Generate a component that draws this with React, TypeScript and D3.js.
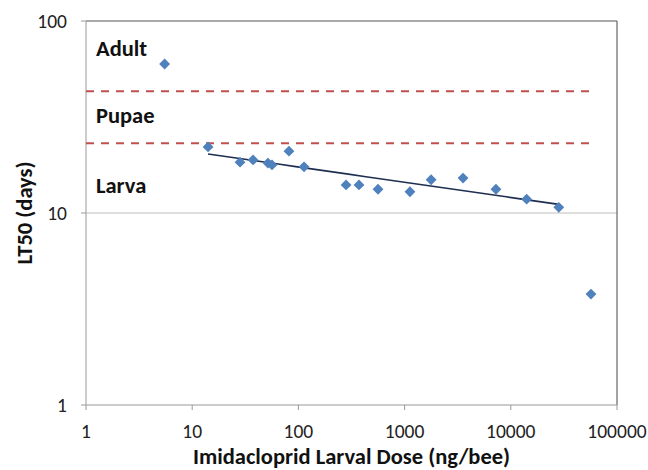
import React from "react";
import * as d3 from "d3";

const doses = [5.5, 14.1, 28.2, 37.4, 51.7, 56.4, 81.5, 113, 281, 372, 562, 1123, 1777, 3550, 7245, 14100, 28300, 56900];
const lt50 = [59.7, 22.1, 18.4, 18.9, 18.2, 17.8, 21.0, 17.4, 14.0, 14.0, 13.3, 12.9, 14.9, 15.2, 13.3, 11.8, 10.7, 3.78];
// indices of larval points used for the power trendline
const trendIdx = [1, 2, 3, 4, 5, 6, 7, 8, 9, 10, 11, 12, 13, 14, 15, 16];
const stageBoundaries = [43.1, 23.1];
const stageLineX = [1, 59000];
const stageLabels = ["Adult", "Pupae", "Larva"];
const stageLabelY = [65.8, 29.4, 12.7];
const xTicks = [1, 10, 100, 1000, 10000, 100000];
const yTicks = [1, 10, 100];
const xTitle = "Imidacloprid Larval Dose (ng/bee)";
const yTitle = "LT50 (days)";

const W = 648, H = 470;
const L = 86, R = 617, T = 21, B = 405;
const FONT = "Carlito, Calibri, 'Open Sans', sans-serif";

export default function App() {
  const x = d3.scaleLog().domain([1, 100000]).range([L, R]);
  const y = d3.scaleLog().domain([1, 100]).range([B, T]);

  const lx = trendIdx.map(i => Math.log10(doses[i]));
  const ly = trendIdx.map(i => Math.log10(lt50[i]));
  const mx = d3.mean(lx)!, my = d3.mean(ly)!;
  const slope = d3.sum(lx.map((v, k) => (v - mx) * (ly[k] - my))) / d3.sum(lx.map(v => (v - mx) ** 2));
  const icpt = my - slope * mx;
  const tx = d3.extent(trendIdx.map(i => doses[i])) as [number, number];
  const trendPts: [number, number][] = d3.range(0, 21).map(k => {
    const lv = Math.log10(tx[0]) + (Math.log10(tx[1]) - Math.log10(tx[0])) * k / 20;
    return [Math.pow(10, lv), Math.pow(10, icpt + slope * lv)];
  });
  const line = d3.line<[number, number]>().x(d => x(d[0])).y(d => y(d[1]));
  const diamond = d3.symbol().type(d3.symbolDiamond2).size(75)();

  return (
    <svg width={W} height={H} style={{ position: "absolute", left: 0, top: 0, background: "#fff" }} fontFamily={FONT}>
      {/* gridline at 10 */}
      <line x1={L} x2={R} y1={y(10)} y2={y(10)} stroke="#bdbdbd" strokeWidth={1} />
      {/* plot borders */}
      <line x1={L} x2={R} y1={T} y2={T} stroke="#555" strokeWidth={1.2} />
      <line x1={R} x2={R} y1={T} y2={B} stroke="#666" strokeWidth={1.2} />
      <line x1={L} x2={R} y1={B} y2={B} stroke="#999" strokeWidth={1} />
      <line x1={L} x2={L} y1={T} y2={B} stroke="#999" strokeWidth={1} />
      {yTicks.map(t => (
        <g key={"y" + t}>
          <line x1={L - 5} x2={L} y1={y(t)} y2={y(t)} stroke="#999" />
          <text x={67} y={y(t)} dy="0.35em" textAnchor="end" fontSize={19.5} fill="#222">{t}</text>
        </g>
      ))}
      {xTicks.map(t => (
        <g key={"x" + t}>
          <line x1={x(t)} x2={x(t)} y1={B} y2={B + 5} stroke="#999" />
          <text x={x(t)} y={438} textAnchor="middle" fontSize={19.5} fill="#222">{t}</text>
        </g>
      ))}
      {stageBoundaries.map(v => (
        <line key={"s" + v} x1={x(stageLineX[0])} x2={x(stageLineX[1])} y1={y(v)} y2={y(v)}
          stroke="#C0504D" strokeWidth={2} strokeDasharray="8,7" />
      ))}
      {stageLabels.map((s, i) => (
        <text key={s} x={L + 10} y={y(stageLabelY[i])} fontSize={22.5} fontWeight="bold" fill="#111">{s}</text>
      ))}
      <path d={line(trendPts)!} fill="none" stroke="#1F2F50" strokeWidth={1.6} />
      {doses.map((d, i) => (
        <path key={"p" + i} d={diamond!} transform={`translate(${x(d)},${y(lt50[i])})`} fill="#4F81BD" />
      ))}
      <text x={(L + R) / 2} y={464} textAnchor="middle" fontSize={22.5} fontWeight="bold" fill="#111">{xTitle}</text>
      <text transform={`translate(32,${(T + B) / 2}) rotate(-90)`} textAnchor="middle" fontSize={22.5} fontWeight="bold" fill="#111">{yTitle}</text>
    </svg>
  );
}
